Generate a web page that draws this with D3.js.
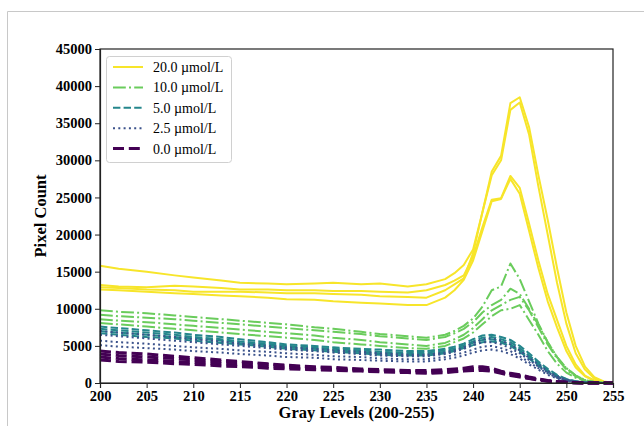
<!DOCTYPE html>
<html>
<head>
<meta charset="utf-8">
<script src="https://cdn.jsdelivr.net/npm/d3@7"></script>
<style>
  body { margin: 0; background: #fff; }
  svg { display: block; }
</style>
</head>
<body>
<svg id="chart" width="644" height="426"></svg>
<script>
// gray levels the histogram was read at
var grayLevels = [200, 202, 205, 208, 210, 213, 215, 218, 220, 223, 225, 228, 230, 233, 235, 237, 238,
    239, 240, 241, 242, 243, 244, 245, 246, 247, 248, 249, 250, 251, 252, 253, 254, 255];

var concLabels = ["20.0 µmol/L", "10.0 µmol/L", "5.0 µmol/L", "2.5 µmol/L", "0.0 µmol/L"];

// replicate curves, one array per sample
var conc20 = [
    [15800, 15400, 15000, 14500, 14200, 13800, 13500, 13400, 13300, 13400, 13500, 13300, 13400, 13000, 13300, 14000, 14800, 15900, 18000, 23000, 28500, 30600, 37700, 38500, 34500, 28000, 22000, 15500, 9500, 5000, 2200, 800, 200, 30],
    [13200, 13000, 12900, 13100, 13000, 12800, 12600, 12600, 12500, 12500, 12400, 12400, 12300, 12200, 12500, 13200, 13800, 14500, 17000, 21000, 24700, 24900, 27900, 26300, 21500, 16500, 12000, 8500, 5000, 2500, 1000, 350, 90, 10],
    [12900, 12800, 12600, 12500, 12300, 12300, 12300, 12200, 12100, 12100, 12000, 11900, 11700, 11600, 11500, 12500, 13300, 14100, 17500, 23000, 28000, 30000, 36800, 37800, 33500, 26500, 20000, 13500, 8000, 4000, 1800, 600, 150, 20],
    [12600, 12500, 12300, 12100, 12000, 11800, 11700, 11500, 11300, 11200, 11000, 10800, 10700, 10500, 10500, 11500, 12500, 13900, 16500, 20500, 24500, 24800, 27500, 25500, 20500, 15500, 11000, 7500, 4300, 2100, 900, 300, 70, 10]
];
var conc10 = [
    [9800, 9600, 9400, 9100, 8900, 8600, 8400, 8100, 7900, 7500, 7300, 6900, 6600, 6300, 6100, 6500, 7000, 7700, 8700, 10300, 12500, 13000, 16100, 14000, 11000, 8000, 5500, 3500, 2000, 1000, 400, 150, 40, 0],
    [9200, 9000, 8800, 8600, 8400, 8100, 7900, 7600, 7400, 7100, 6900, 6600, 6300, 6000, 5800, 6200, 6700, 7300, 8200, 9500, 10500, 11200, 12700, 12000, 10000, 7800, 5500, 3500, 2000, 1000, 400, 150, 40, 0],
    [8600, 8400, 8200, 7900, 7700, 7400, 7200, 6900, 6700, 6400, 6100, 5800, 5500, 5200, 5000, 5400, 5900, 6500, 7400, 8600, 9800, 10500, 11200, 11600, 9800, 7500, 5200, 3300, 1800, 900, 350, 120, 30, 0],
    [8100, 7900, 7600, 7300, 7100, 6800, 6600, 6300, 6100, 5800, 5500, 5200, 5000, 4700, 4600, 5000, 5500, 6000, 6800, 7900, 9000, 9800, 10000, 10500, 8500, 6500, 4300, 2600, 1400, 700, 250, 90, 20, 0]
];
var conc5 = [
    [7600, 7400, 7100, 6800, 6500, 6200, 5900, 5500, 5200, 5000, 4800, 4600, 4500, 4300, 4300, 4600, 4900, 5300, 5900, 6400, 6500, 6200, 5800, 5000, 4000, 2900, 1900, 1100, 550, 250, 90, 30, 10, 0],
    [7300, 7100, 6800, 6500, 6200, 5900, 5600, 5300, 5000, 4800, 4600, 4400, 4200, 4100, 4100, 4400, 4700, 5100, 5600, 6100, 6200, 5900, 5500, 4700, 3700, 2700, 1700, 1000, 500, 220, 80, 25, 5, 0],
    [7000, 6800, 6500, 6200, 6000, 5700, 5400, 5100, 4800, 4600, 4400, 4200, 4000, 3900, 3900, 4200, 4500, 4900, 5400, 5800, 5900, 5600, 5200, 4400, 3500, 2500, 1600, 900, 450, 200, 70, 20, 5, 0],
    [6700, 6500, 6200, 6000, 5700, 5400, 5200, 4900, 4600, 4400, 4200, 4000, 3800, 3700, 3700, 4000, 4300, 4700, 5100, 5500, 5600, 5400, 5000, 4200, 3300, 2300, 1500, 800, 400, 180, 60, 20, 5, 0]
];
var conc2_5 = [
    [7000, 6800, 6500, 6200, 5900, 5600, 5300, 5000, 4800, 4600, 4400, 4200, 4000, 3800, 3800, 4100, 4400, 4800, 5400, 5900, 6000, 5700, 5200, 4400, 3400, 2500, 1600, 900, 450, 200, 70, 20, 5, 0],
    [6500, 6300, 6000, 5700, 5500, 5200, 5000, 4700, 4500, 4300, 4100, 3900, 3700, 3600, 3600, 3900, 4200, 4600, 5100, 5500, 5500, 5200, 4700, 4000, 3100, 2200, 1400, 800, 400, 180, 60, 20, 5, 0],
    [5700, 5500, 5300, 5000, 4800, 4600, 4400, 4200, 4000, 3800, 3600, 3500, 3300, 3200, 3200, 3500, 3800, 4100, 4500, 4900, 5000, 4700, 4300, 3600, 2800, 2000, 1300, 700, 350, 150, 50, 15, 5, 0],
    [5100, 4900, 4700, 4500, 4300, 4100, 3900, 3700, 3500, 3400, 3200, 3100, 3000, 2900, 2900, 3200, 3400, 3700, 4100, 4400, 4500, 4300, 3900, 3300, 2500, 1800, 1100, 600, 300, 130, 40, 10, 0, 0]
];
var conc0 = [
    [4300, 4100, 3900, 3600, 3400, 3100, 2900, 2600, 2400, 2200, 2100, 1900, 1800, 1700, 1700, 1800, 1900, 2000, 2200, 2200, 2000, 1600, 1300, 1100, 800, 550, 350, 200, 100, 50, 20, 0, 0, 0],
    [3900, 3700, 3500, 3300, 3100, 2900, 2700, 2500, 2300, 2100, 2000, 1800, 1700, 1600, 1600, 1700, 1800, 1900, 2000, 2000, 1800, 1500, 1200, 1000, 700, 500, 300, 180, 90, 40, 10, 0, 0, 0],
    [3500, 3300, 3100, 2900, 2800, 2600, 2400, 2200, 2100, 1900, 1800, 1700, 1600, 1500, 1400, 1500, 1600, 1700, 1800, 1800, 1700, 1400, 1100, 900, 650, 450, 280, 160, 80, 30, 10, 0, 0, 0],
    [3100, 2900, 2800, 2600, 2500, 2300, 2200, 2000, 1900, 1800, 1700, 1600, 1500, 1400, 1300, 1400, 1500, 1600, 1700, 1700, 1600, 1300, 1000, 800, 600, 400, 250, 150, 70, 30, 10, 0, 0, 0]
];

var xTicks = d3.range(200, 256, 5);
var yTicks = d3.range(0, 45001, 5000);

var allSeries = [conc20, conc10, conc5, conc2_5, conc0];
var colors = ["#f7e52a", "#6acc5c", "#25868c", "#3b528b", "#440154"];
var dashes = ["none", "12.8,3.2,2,3.2", "7.4,3.2", "2,3.3", "11,4.8"];
var widths = [2, 2, 2, 2, 3];

var svg = d3.select("#chart");

// light frame around the figure
svg.append("path")
    .attr("d", "M7.5,426 L7.5,11.5 L644,11.5")
    .attr("fill", "none")
    .attr("stroke", "#c8c8c8")
    .attr("stroke-width", 1);

var plotLeft = 100, plotRight = 613, plotTop = 49, plotBottom = 383;

var x = d3.scaleLinear().domain([200, 255]).range([plotLeft, plotRight]);
var y = d3.scaleLinear().domain([0, 45000]).range([plotBottom, plotTop]);

var plot = svg.append("g");

var line = d3.line()
    .x(function (d, i) { return x(grayLevels[i]); })
    .y(function (d) { return y(d); });

allSeries.forEach(function (group, k) {
    group.forEach(function (vals) {
        plot.append("path")
            .datum(vals)
            .attr("d", line)
            .attr("fill", "none")
            .attr("stroke", colors[k])
            .attr("stroke-width", widths[k])
            .attr("stroke-dasharray", dashes[k])
            .attr("stroke-linejoin", "round");
    });
});

// axes
var xAxis = svg.append("g")
    .attr("transform", "translate(0," + plotBottom + ")")
    .call(d3.axisBottom(x).tickValues(xTicks).tickSize(5).tickPadding(3));
var yAxis = svg.append("g")
    .attr("transform", "translate(" + plotLeft + ",0)")
    .call(d3.axisLeft(y).tickValues(yTicks).tickSize(5).tickPadding(3).tickFormat(d3.format("d")));

svg.append("rect")
    .attr("x", plotLeft).attr("y", plotTop)
    .attr("width", plotRight - plotLeft).attr("height", plotBottom - plotTop)
    .attr("fill", "none")
    .attr("stroke", "#222")
    .attr("stroke-width", 1.2);

[xAxis, yAxis].forEach(function (a) {
    a.select(".domain").attr("stroke", "#222").attr("stroke-width", 1.2);
    a.selectAll(".tick line").attr("stroke", "#222").attr("stroke-width", 1);
    a.selectAll(".tick text")
        .attr("fill", "#000")
        .style("font-family", "'Liberation Serif', 'DejaVu Serif', serif")
        .style("font-weight", "bold")
        .style("font-size", "14.5px");
});

svg.append("text")
    .attr("x", (plotLeft + plotRight) / 2)
    .attr("y", 418)
    .attr("text-anchor", "middle")
    .style("font-family", "'Liberation Serif', serif")
    .style("font-weight", "bold")
    .style("font-size", "16.5px")
    .text("Gray Levels (200-255)");

svg.append("text")
    .attr("transform", "translate(46," + ((plotTop + plotBottom) / 2) + ") rotate(-90)")
    .attr("text-anchor", "middle")
    .style("font-family", "'Liberation Serif', serif")
    .style("font-weight", "bold")
    .style("font-size", "16.5px")
    .text("Pixel Count");

// legend
var legend = svg.append("g");
legend.append("rect")
    .attr("x", 106.5).attr("y", 56.5)
    .attr("width", 125).attr("height", 106)
    .attr("rx", 3)
    .attr("fill", "#fff")
    .attr("fill-opacity", 0.8)
    .attr("stroke", "#d0d0d0");

concLabels.forEach(function (lab, k) {
    var ly = 67 + k * 20.4;
    legend.append("line")
        .attr("x1", 113).attr("x2", 143)
        .attr("y1", ly).attr("y2", ly)
        .attr("stroke", colors[k])
        .attr("stroke-width", widths[k])
        .attr("stroke-dasharray", dashes[k]);
    legend.append("text")
        .attr("x", 153)
        .attr("y", ly + 5)
        .style("font-family", "'Liberation Serif', serif")
        .style("font-size", "14px")
        .text(lab);
});
</script>
</body>
</html>
